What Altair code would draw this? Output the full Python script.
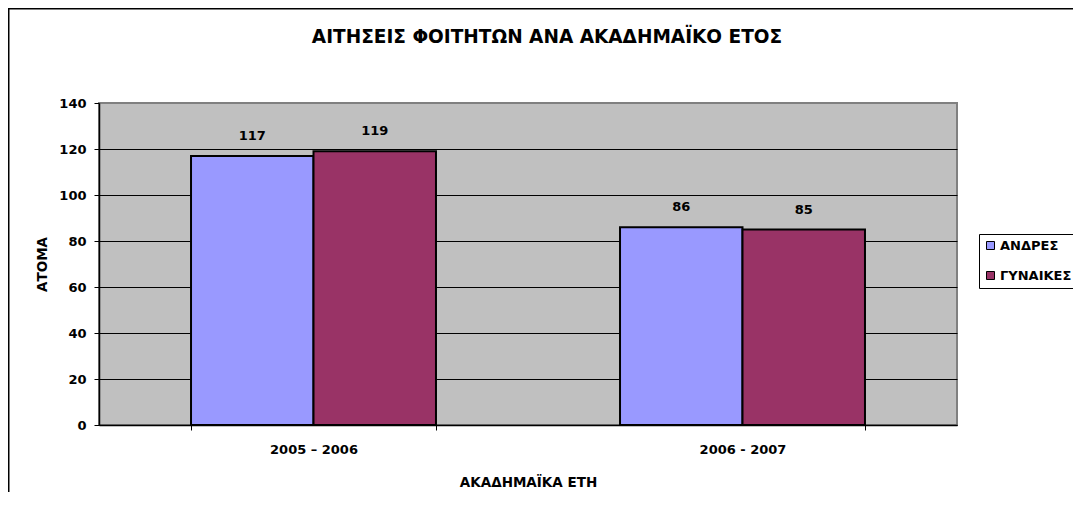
import altair as alt
import pandas as pd

# ---- data ----
title_text = "ΑΙΤΗΣΕΙΣ ΦΟΙΤΗΤΩΝ ΑΝΑ ΑΚΑΔΗΜΑΪΚΟ ΕΤΟΣ"
years = ["2005 – 2006", "2006 - 2007"]
series = ["ΑΝΔΡΕΣ", "ΓΥΝΑΙΚΕΣ"]
men = [117, 86]
women = [119, 85]
y_ticks = [0, 20, 40, 60, 80, 100, 120, 140]
colors = ["#9999FF", "#993366"]

rows = []
for i, yr in enumerate(years):
    rows.append({"year": yr, "series": series[0], "value": men[i]})
    rows.append({"year": yr, "series": series[1], "value": women[i]})
df = pd.DataFrame(rows)

FONT = "DejaVu Sans"
W, H = 858, 322

x_enc = alt.X(
    "year:N", sort=years,
    scale=alt.Scale(paddingInner=0.429, paddingOuter=0.2145),
    axis=alt.Axis(
        title="ΑΚΑΔΗΜΑΪΚΑ ΕΤΗ", labelAngle=0, tickBand="extent", grid=False,
        domainColor="black", domainWidth=1.5, tickColor="black", tickSize=5, labelPadding=13,
        labelFont=FONT, labelFontWeight="bold", labelFontSize=13, labelColor="black",
        titleFont=FONT, titleFontWeight="bold", titleFontSize=13.5, titleColor="black",
        titleX=W / 2, titleY=57, titleBaseline="middle", titleAlign="center",
    ),
)
xo_enc = alt.XOffset("series:N", sort=series, scale=alt.Scale(paddingInner=0, paddingOuter=0))
y_enc = alt.Y(
    "value:Q",
    scale=alt.Scale(domain=[0, 140], nice=False),
    axis=alt.Axis(
        values=y_ticks, title="ΑΤΟΜΑ", grid=True,
        gridColor={"condition": {"test": "datum.value === 140", "value": "#808080"}, "value": "black"},
        gridWidth=1,
        domainColor="black", domainWidth=1.5, tickColor="black", tickSize=5, labelPadding=8,
        labelFont=FONT, labelFontWeight="bold", labelFontSize=13, labelColor="black",
        titleFont=FONT, titleFontWeight="bold", titleFontSize=13.5, titleColor="black",
        titleAngle=270, titleX=-57, titleY=H / 2, titleAlign="center", titleBaseline="middle",
    ),
)

bars = alt.Chart(df).mark_bar(stroke="black", strokeWidth=2, opacity=1).encode(
    x=x_enc,
    xOffset=xo_enc,
    y=y_enc,
    color=alt.Color(
        "series:N", sort=series,
        scale=alt.Scale(domain=series, range=colors),
        legend=alt.Legend(title=None),
    ),
)

labels = alt.Chart(df).mark_text(
    dy=-20, font=FONT, fontWeight="bold", fontSize=13, color="black", baseline="middle"
).encode(
    x=alt.X("year:N", sort=years),
    xOffset=alt.XOffset("series:N", sort=series),
    y=alt.Y("value:Q"),
    text=alt.Text("value:Q"),
)

frame = alt.Chart(pd.DataFrame({"k": [0]})).mark_rect(
    fillOpacity=0, stroke="black", strokeWidth=1.5
).encode(
    x=alt.value(-90.25), x2=alt.value(1300),
    y=alt.value(-94.25), y2=alt.value(700),
)

title = alt.Chart(pd.DataFrame({"t": [title_text]})).mark_text(
    font=FONT, fontSize=18.5, fontWeight="bold", color="black",
    align="center", baseline="middle",
).encode(
    text="t:N", x=alt.value(448), y=alt.value(-66),
)

chart = alt.layer(frame, bars, labels, title).properties(
    width=W, height=H,
    autosize=alt.AutoSizeParams(type="none"),
    padding={"left": 91, "top": 95, "right": 116, "bottom": 67},
    background="white",
).configure_view(
    fill="#C0C0C0", stroke="#808080", strokeWidth=2
).configure_legend(
    orient="none", legendX=880, legendY=131,
    strokeColor="black", fillColor="white", padding=5, rowPadding=16,
    labelFont=FONT, labelFontSize=13, labelFontWeight="bold", labelColor="black",
    symbolType="square", symbolSize=64, symbolStrokeColor="black", symbolStrokeWidth=1,
    symbolOpacity=1, labelOffset=3, cornerRadius=0, labelLimit=200,
)

chart.save("out.html", embed_options={"renderer": "svg", "actions": False})
